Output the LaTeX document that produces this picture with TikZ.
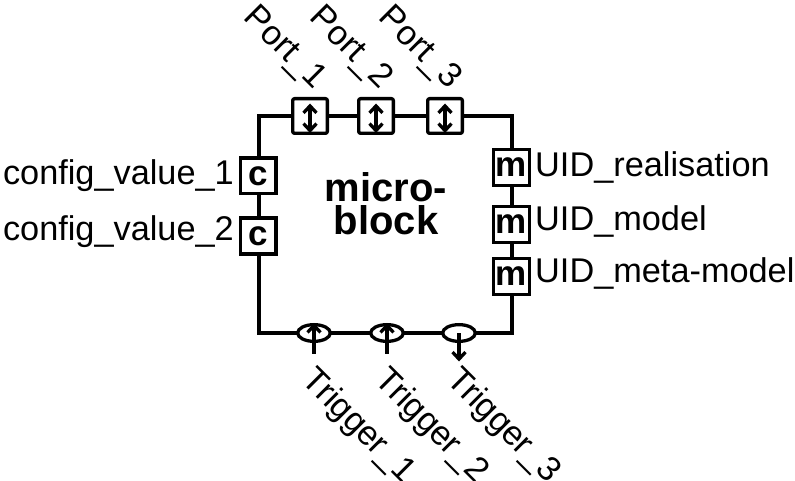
\documentclass[tikz,border=0pt]{standalone}
\usepackage{fontspec}
\setmainfont{Liberation Sans}
\usepackage{tikz}
\usetikzlibrary{positioning, arrows.meta, shapes.geometric, calc}
\tikzset{
	>={Straight Barb[length=7pt, width=13pt]},
	% contorno del micro-blocco
	blocco/.style={draw, line width=3.3pt, rectangle, minimum width=253pt, minimum height=217pt,
	               inner sep=0pt},
	% porta bidirezionale
	porta/.style={draw, line width=3.3pt, rectangle, rounded corners=2pt, fill=white,
	              minimum size=34.7pt, inner sep=0pt},
	% parametro (c / m)
	param/.style={draw, line width=3.3pt, rectangle, fill=white, minimum size=35.7pt, inner sep=0pt,
	              font=\bfseries\fontsize{35}{38}\selectfont},
	% ingresso/uscita di trigger
	innesco/.style={draw, line width=3.3pt, ellipse, fill=white, minimum width=32.7pt,
	                minimum height=16.7pt, inner sep=0pt},
	% testi
	etichetta/.style={inner sep=0pt, font=\fontsize{34.3}{38}\selectfont},
	% frecce
	freccia/.style={->, line width=3.3pt},
	doppia/.style={<->, line width=3.3pt},
}

\begin{document}
\begin{tikzpicture}[x=1pt, y=1pt]
    \useasboundingbox (0,0) rectangle (795,480);

    % ---------------- blocco ----------------
    \node[blocco] (mb) at (385.5,255.5) {};
    \node[inner sep=0pt, align=center, font=\bfseries\fontsize{40}{33}\selectfont] (nome)
        at (386,276) {micro-\\block};

    % ---------------- porte ----------------
    \node[porta] (p1) at (310,364) {};
    \node[porta] (p2) at (376,364) {};
    \node[porta] (p3) at (445,364) {};
    \draw[doppia] ([yshift=2pt]p1.south) -- ([yshift=-6.5pt]p1.north);
    \draw[doppia] ([yshift=2pt]p2.south) -- ([yshift=-6.5pt]p2.north);
    \draw[doppia] ([yshift=2pt]p3.south) -- ([yshift=-6.5pt]p3.north);
    \node[etichetta, rotate=-45, anchor=base east] (lp1) at ($(p1.center)+(4,25.5)$) {Port\_1};
    \node[etichetta, rotate=-45, anchor=base east] (lp2) at ($(p2.center)+(4,25.5)$) {Port\_2};
    \node[etichetta, rotate=-45, anchor=base east] (lp3) at ($(p3.center)+(4,25.5)$) {Port\_3};

    % ---------------- valori di configurazione ----------------
    \node[param] (c1) at (258,304) {c};
    \node[param] (c2) at (258,244) {c};
    \node[etichetta, anchor=base east] (lc1) at (234,295) {config\_value\_1};
    \node[etichetta, anchor=base east] (lc2) at (234,240) {config\_value\_2};

    % ---------------- identificativi ----------------
    \node[param] (m1) at (511.5,312.5) {m};
    \node[param] (m2) at (511.5,255.5) {m};
    \node[param] (m3) at (511.5,203.5) {m};
    \node[etichetta, anchor=base west] (lm1) at (535,303) {UID\_realisation};
    \node[etichetta, anchor=base west] (lm2) at (535,250) {UID\_model};
    \node[etichetta, anchor=base west] (lm3) at (535,198) {UID\_meta-model};

    % ---------------- trigger ----------------
    \node[innesco] (t1) at (314,147) {};
    \node[innesco] (t2) at (387,147) {};
    \node[innesco] (t3) at (459,147) {};
    \draw[freccia] ([yshift=-10.5pt]t1.south) -- (t1.north);
    \draw[freccia] ([yshift=-10.5pt]t2.south) -- (t2.north);
    \draw[freccia] (t3.center) -- ([yshift=-18.5pt]t3.south);
    \node[etichetta, rotate=-45, anchor=base west] (lt1) at ($(t1.center)+(-14,-48)$) {Trigger\_1};
    \node[etichetta, rotate=-45, anchor=base west] (lt2) at ($(t2.center)+(-14,-48)$) {Trigger\_2};
    \node[etichetta, rotate=-45, anchor=base west] (lt3) at ($(t3.center)+(-14,-48)$) {Trigger\_3};
\end{tikzpicture}
\end{document}
